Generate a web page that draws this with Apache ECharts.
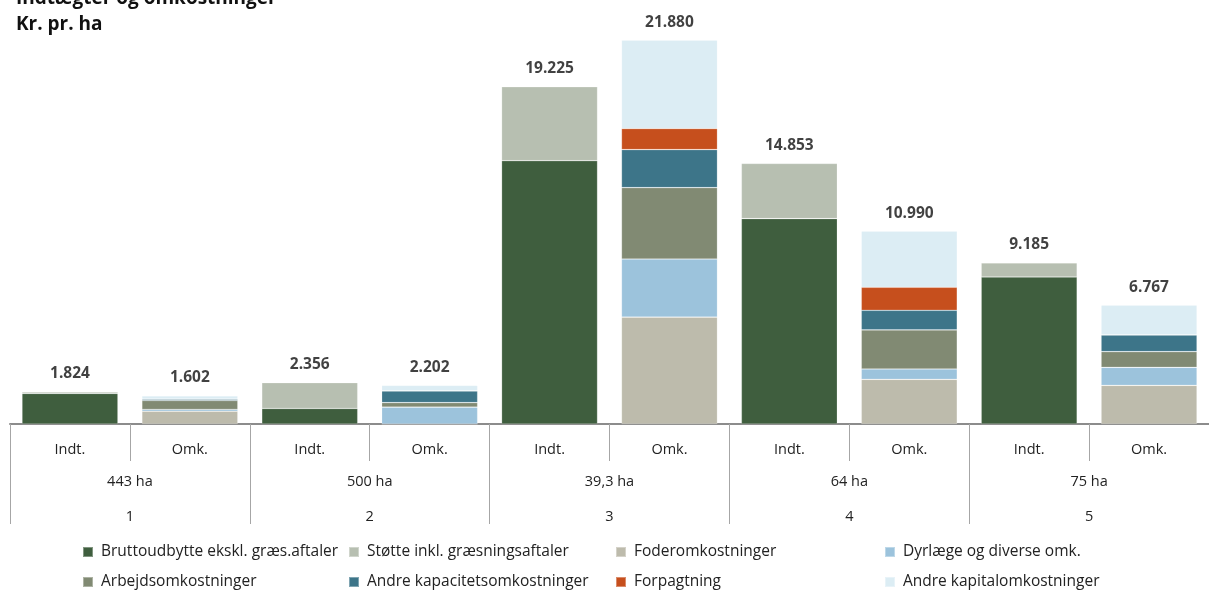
<!DOCTYPE html>
<html>
<head>
<meta charset="utf-8">
<script src="https://cdn.jsdelivr.net/npm/echarts@6/dist/echarts.min.js"></script>
<style>
html,body{margin:0;padding:0;background:#fff;}
#chart{width:1209px;height:592px;}
</style>
</head>
<body>
<div id="chart"></div>
<script>
// ---- Data ----
const subCategories = ['Indt.','Omk.','Indt.','Omk.','Indt.','Omk.','Indt.','Omk.','Indt.','Omk.'];
const areaLabels = ['443 ha','500 ha','39,3 ha','64 ha','75 ha'];
const groupLabels = ['1','2','3','4','5'];

const seriesNames = [
  'Bruttoudbytte ekskl. græs.aftaler',
  'Støtte inkl. græsningsaftaler',
  'Foderomkostninger',
  'Dyrlæge og diverse omk.',
  'Arbejdsomkostninger',
  'Andre kapacitetsomkostninger',
  'Forpagtning',
  'Andre kapitalomkostninger'
];

const brutto   = [1744, null,  885, null, 15010, null, 11710, null, 8380, null];
const stotte   = [  80, null, 1471, null,  4215, null,  3143, null,  805, null];
const foder    = [null,  730, null,    0, null,  6093, null,  2545, null, 2202];
const dyrlaege = [null,  100, null,  960, null,  3309, null,   593, null, 1027];
const arbejd   = [null,  510, null,  260, null,  4074, null,  2225, null,  896];
const andreKap = [null,   80, null,  670, null,  2168, null,  1118, null,  953];
const forpagt  = [null,    0, null,    0, null,  1198, null,  1312, null,    0];
const kapital  = [null,  182, null,  312, null,  5038, null,  3197, null, 1689];

const totals = [1824, 1602, 2356, 2202, 19225, 21880, 14853, 10990, 9185, 6767];

// ---- Styling ----
const colors = ['#3f5e3e','#b7bfb1','#bdbbac','#9cc3dc','#818a73','#3d7589','#c64f1d','#dcedf4'];
const seriesData = [brutto, stotte, foder, dyrlaege, arbejd, andreKap, forpagt, kapital];
const FONT = '"Open Sans"';

function fmt(v){ return String(v).replace(/\B(?=(\d{3})+(?!\d))/g, '.'); }

const chart = echarts.init(document.getElementById('chart'));

const series = seriesData.map((d, i) => ({
  name: seriesNames[i],
  type: 'bar',
  stack: 'total',
  barWidth: '80%',
  data: d,
  itemStyle: { color: colors[i], borderColor: 'rgba(255,255,255,0.35)', borderWidth: 0.6 },
  emphasis: { disabled: true }
}));

series.push({
  name: 'Total',
  type: 'scatter',
  data: totals,
  symbolSize: 0,
  silent: true,
  label: {
    show: true,
    position: 'top',
    distance: 10,
    formatter: p => fmt(p.value),
    fontFamily: FONT,
    fontWeight: 'bold',
    fontSize: 15.5,
    color: '#111'
  }
});

const legendCols = [82, 348, 615, 884];
const legendRows = [544, 574];
const legends = seriesNames.map((n, i) => ({
  data: [n],
  left: legendCols[i % 4],
  top: legendRows[Math.floor(i / 4)],
  padding: 0,
  icon: 'rect',
  itemWidth: 10,
  itemHeight: 10,
  selectedMode: false,
  textStyle: { fontFamily: FONT, fontSize: 15.5, color: '#222', padding: [0, 0, 0, 3] }
}));

const option = {
  animation: false,
  color: colors,
  title: {
    text: 'Indtægter og omkostninger\nKr. pr. ha',
    left: 16,
    top: -14,
    padding: 0,
    textStyle: { fontFamily: FONT, fontSize: 19, fontWeight: 'bold', color: '#111', lineHeight: 26 }
  },
  legend: legends,
  grid: { left: 10, right: -3, top: 3, bottom: 168, containLabel: false },
  xAxis: [
    {
      type: 'category',
      data: subCategories,
      axisLine: { lineStyle: { color: '#8c8c8c', width: 2 } },
      axisTick: { show: true, length: 37, lineStyle: { color: '#a6a6a6', width: 1 } },
      axisLabel: { margin: 18, fontFamily: FONT, fontSize: 14.5, color: '#222' }
    },
    {
      type: 'category',
      data: areaLabels,
      position: 'bottom',
      offset: 37,
      axisLine: { show: false },
      axisTick: { show: true, length: 63, lineStyle: { color: '#a6a6a6', width: 1 } },
      axisLabel: { margin: 13, fontFamily: FONT, fontSize: 14.5, color: '#222' }
    },
    {
      type: 'category',
      data: groupLabels,
      position: 'bottom',
      offset: 70,
      axisLine: { show: false },
      axisTick: { show: false },
      axisLabel: { margin: 15, fontFamily: FONT, fontSize: 14.5, color: '#222' }
    }
  ],
  yAxis: { type: 'value', min: 0, max: 24000, show: false, splitLine: { show: false } },
  series: series
};

chart.setOption(option);
</script>
</body>
</html>
